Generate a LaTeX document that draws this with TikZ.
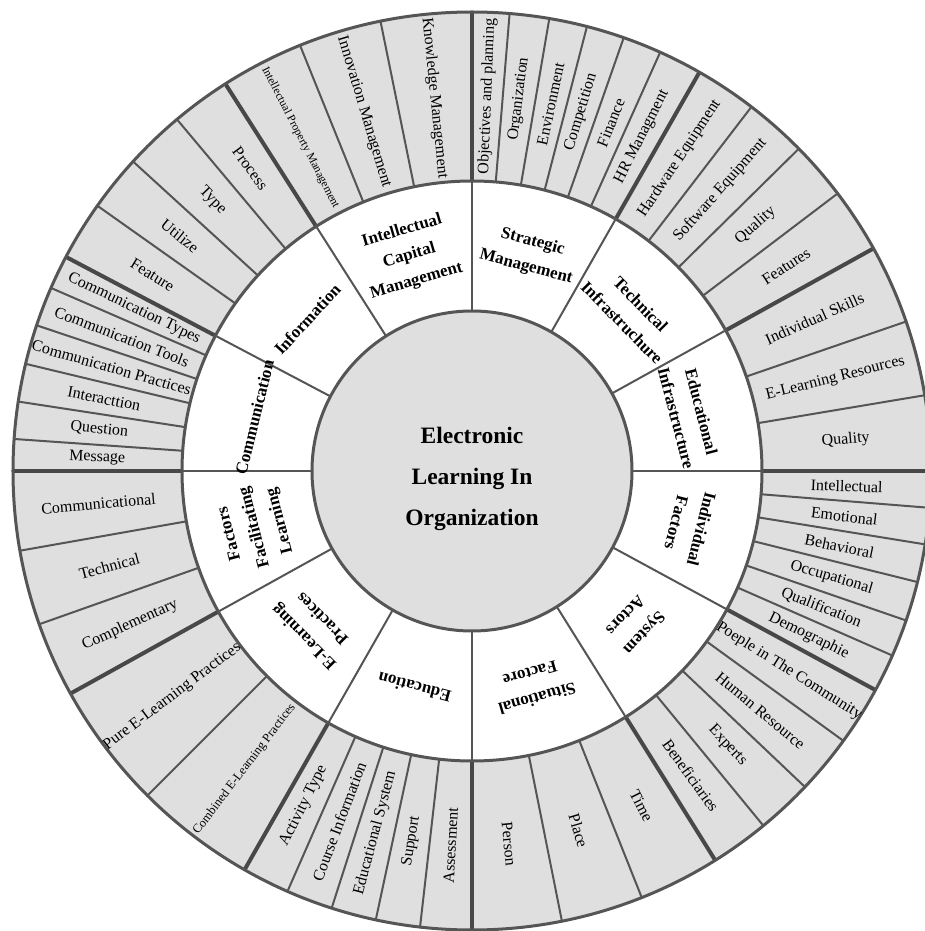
\documentclass[tikz,border=0pt]{standalone}
\usepackage{fontspec}
\setmainfont{Liberation Serif}
\definecolor{ringfill}{HTML}{DFDFDF}
\definecolor{ringline}{HTML}{555555}
\tikzset{
  leaf/.style={font=\fontsize{16}{19}\selectfont, inner sep=0pt},
  branch/.style={font=\fontsize{17}{26}\selectfont\bfseries, align=center, inner sep=0pt},
  hub/.style={font=\fontsize{23.5}{41}\selectfont\bfseries, align=center, inner sep=0pt},
  subspoke/.style={ringline, line width=2pt},
  mainspoke/.style={ringline!85!black, line width=4pt},
  rim/.style={ringline, line width=3pt},
}

\begin{document}
\begin{tikzpicture}[x=1pt,y=1pt]
\useasboundingbox (-472,-460) rectangle (453,471);
% rings
\fill[ringfill] (0,0) circle (459);
\fill[white] (0,0) circle (290);
\fill[ringfill] (0,0) circle (160);
% spokes of the outer ring
\foreach \a in {9.5,19,37.2,44.6,52.5,65.8,70.7,75.5,80.3,85.3,101.5,112,130,137.6,144.7,
  156.5,161.5,166.5,171.3,176,190,199.5,225,246.3,252.2,257.9,263.5,281.3,291.7,
  309.4,316.5,324,336.3,341,346,350.8,355.4}
  \draw[subspoke] (\a:290) -- (\a:459);
% spokes between the main parts
\foreach \a in {0,29,60.3,90,122.5,152.2,180,209,240.3,270,302,331.5}{
  \draw[subspoke] (\a:160) -- (\a:290);
  \draw[mainspoke] (\a:290) -- (\a:459);
}
\draw[rim] (0,0) circle (459) (0,0) circle (290) (0,0) circle (160);
% centre
\node[hub] (hub) at (0,-8) {Electronic\\Learning In\\Organization};
% main parts
\foreach \a/\b/\txt [count=\i] in {
  0/29/Educational\\Infrastructure,
  29/60.3/Technical\\Infrastruchure,
  60.3/90/Strategic\\Management,
  90/122.5/Intellectual\\Capital\\Management,
  122.5/152.2/Information,
  152.2/180/Communication,
  180/209/Factors\\Facilitating\\Learning,
  209/240.3/E-Learning\\Practices,
  240.3/270/Education,
  270/302/Situational\\Factore,
  302/331.5/System\\Actors,
  331.5/360/Individual\\Factors}{
  \pgfmathsetmacro\mid{(\a+\b)/2}
  \node[branch, rotate=\mid-90] (branch\i) at (\mid:224) {\txt};
}
% outer items
\foreach \a/\b/\txt [count=\i] in {
  0/9.5/Quality,
  9.5/19/E-Learning Resources,
  19/29/Individual Skills,
  29/37.2/Features,
  37.2/44.6/Quality,
  44.6/52.5/Software Equipment,
  52.5/60.3/Hardware Equipment,
  60.3/65.8/HR Managment,
  65.8/70.7/Finance,
  70.7/75.5/Competition,
  75.5/80.3/Environment,
  80.3/85.3/Organization,
  85.3/90/Objectives and planning,
  90/101.5/Knowledge Management,
  101.5/112/Innovation Management,
  112/122.5/{\fontsize{11.5}{13}\selectfont Intellectual Property Management},
  122.5/130/Process,
  130/137.6/Type,
  137.6/144.7/Utilize,
  144.7/152.2/Feature,
  152.2/156.5/Communication Types,
  156.5/161.5/Communication Tools,
  161.5/166.5/Communication Practices,
  166.5/171.3/Interacttion,
  171.3/176/Question,
  176/180/Message,
  180/190/Communicational,
  190/199.5/Technical,
  199.5/209/Complementary,
  209/225/Pure E-Learning Practices,
  225/240.3/{\fontsize{12.5}{14}\selectfont Combined E-Learning Practices},
  240.3/246.3/Activity Type,
  246.3/252.2/Course Information,
  252.2/257.9/Educational System,
  257.9/263.5/Support,
  263.5/270/Assessment,
  270/281.3/Person,
  281.3/291.7/Place,
  291.7/302/Time,
  302/309.4/Beneficiaries,
  309.4/316.5/Experts,
  316.5/324/Human Resource,
  324/331.5/Poeple in The Community,
  331.5/336.3/Demographie,
  336.3/341/Qualification,
  341/346/Occupational,
  346/350.8/Behavioral,
  350.8/355.4/Emotional,
  355.4/360/Intellectual}{
  \pgfmathsetmacro\mid{(\a+\b)/2}
  \pgfmathsetmacro\rot{ifthenelse(\mid>90 && \mid<270, \mid-180, \mid)}
  \node[leaf, rotate=\rot] (leaf\i) at (\mid:375) {\txt};
}
\end{tikzpicture}
\end{document}
